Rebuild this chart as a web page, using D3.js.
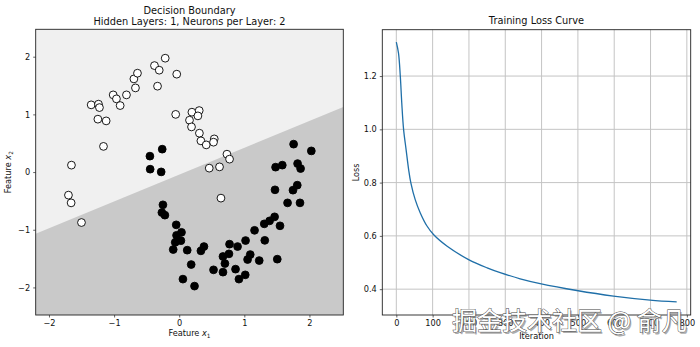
<!DOCTYPE html>
<html>
<head>
<meta charset="utf-8">
<script src="https://cdn.jsdelivr.net/npm/d3@7"></script>
<style>
html,body{margin:0;padding:0;background:#fff;}
svg{display:block;font-family:"DejaVu Sans",sans-serif;}
</style>
</head>
<body>
<svg id="chart" width="700" height="347"></svg>
<script>
// ---------- data ----------
const class0X = [-1.352,-1.240,-1.225,-1.249,-1.122,-1.014,-0.964,-0.907,-0.810,-0.696,-0.641,-0.672,-0.380,-0.307,-0.215,-0.333,-0.038,-0.054,0.195,0.307,0.287,0.158,0.189,0.310,0.333,0.415,0.538,0.527,0.733,0.773,0.461,0.619,0.641,-1.163,-1.655,-1.701,-1.660,-1.501];
const class0Y = [1.165,1.177,1.118,0.917,0.887,1.338,1.269,1.153,1.338,1.615,1.714,1.459,1.846,1.766,1.974,1.489,1.697,1.000,1.038,1.066,0.974,0.899,0.783,0.674,0.541,0.471,0.575,0.518,0.310,0.224,0.068,0.090,-0.452,0.445,0.120,-0.400,-0.534,-0.875];
const class1X = [-0.261,-0.450,-0.446,-0.277,-0.250,-0.266,-0.220,-0.046,0.035,-0.041,0.026,-0.061,-0.092,0.123,0.333,0.380,0.184,0.057,0.235,0.527,0.672,0.702,0.672,0.764,0.773,0.896,1.019,1.157,1.306,1.388,1.465,1.548,1.314,0.865,0.917,1.014,1.091,1.050,1.229,1.506,1.664,1.855,1.471,1.747,1.813,1.818,1.864,1.480,1.583,1.757,2.029];
const class1Y = [0.397,0.276,0.050,0.003,-0.568,-0.702,-0.747,-0.915,-1.045,-1.097,-1.189,-1.218,-1.343,-1.354,-1.366,-1.291,-1.603,-1.856,-1.977,-1.695,-1.735,-1.586,-1.464,-1.418,-1.250,-1.291,-1.187,-1.010,-0.898,-0.846,-0.776,-0.932,-1.184,-1.683,-1.856,-1.782,-1.430,-1.516,-1.534,-1.510,-0.534,-0.534,-0.308,-0.314,-0.227,0.147,0.061,0.085,0.120,0.484,0.367];
const boundaryX = [-2.204, 2.52];
const boundaryY = [-1.07, 1.13];
const featXTicks = [-2,-1,0,1,2];
const featYTicks = [-2,-1,0,1,2];

const lossIter = [0,6,11,15,20,27,34,40,52,66,84,103,140,199,250,286,341,396,497,598,699,772];
const lossVal  = [1.327,1.286,1.199,1.099,1.000,0.923,0.848,0.799,0.736,0.686,0.638,0.604,0.561,0.511,0.480,0.462,0.439,0.421,0.395,0.374,0.359,0.352];
const iterTicks = [0,100,200,300,400,500,600,700,800];
const lossTicks = [0.4,0.6,0.8,1.0,1.2];

const titleLeft1 = "Decision Boundary";
const titleLeft2 = "Hidden Layers: 1, Neurons per Layer: 2";
const titleRight = "Training Loss Curve";
const watermark = "掘金技术社区 @ 俞凡";

// ---------- layout ----------
const svg = d3.select("#chart");
const L = {x0:35.7, x1:343.3, y0:29.3, y1:315};
const R = {x0:382.3, x1:690.7, y0:29.7, y1:315};
const fmtMinus = d => String(d).replace("-", "\u2212");

// ---------- left: decision boundary ----------
const xs = d3.scaleLinear().domain([-2.204, 2.52]).range([L.x0, L.x1]);
const ys = d3.scaleLinear().domain([-2.478, 2.475]).range([L.y1, L.y0]);

const gl = svg.append("g");
gl.append("rect").attr("x",L.x0).attr("y",L.y0).attr("width",L.x1-L.x0).attr("height",L.y1-L.y0).attr("fill","#f0f0f0");
const lowPoly = [
  [xs(boundaryX[0]), ys(boundaryY[0])],
  [xs(boundaryX[1]), ys(boundaryY[1])],
  [L.x1, L.y1],
  [L.x0, L.y1]
];
gl.append("path").attr("d", d3.line()(lowPoly) + "Z").attr("fill","#c9c9c9");

const pts0 = class0X.map((x,i)=>[x,class0Y[i]]);
const pts1 = class1X.map((x,i)=>[x,class1Y[i]]);
gl.selectAll("circle.c0").data(pts0).join("circle").attr("class","c0")
  .attr("cx",d=>xs(d[0])).attr("cy",d=>ys(d[1])).attr("r",3.9)
  .attr("fill","#fff").attr("stroke","#000").attr("stroke-width",0.9);
gl.selectAll("circle.c1").data(pts1).join("circle").attr("class","c1")
  .attr("cx",d=>xs(d[0])).attr("cy",d=>ys(d[1])).attr("r",3.9)
  .attr("fill","#000").attr("stroke","#000").attr("stroke-width",0.9);

gl.append("rect").attr("x",L.x0).attr("y",L.y0).attr("width",L.x1-L.x0).attr("height",L.y1-L.y0)
  .attr("fill","none").attr("stroke","#222").attr("stroke-width",0.9);

const axL_x = gl.append("g").attr("transform",`translate(0,${L.y1})`)
  .call(d3.axisBottom(xs).tickValues(featXTicks).tickSize(2.5).tickPadding(3).tickFormat(fmtMinus));
const axL_y = gl.append("g").attr("transform",`translate(${L.x0},0)`)
  .call(d3.axisLeft(ys).tickValues(featYTicks).tickSize(2.5).tickPadding(3).tickFormat(fmtMinus));
[axL_x, axL_y].forEach(a=>{
  a.select(".domain").remove();
  a.selectAll("text").attr("font-size","8.2px").attr("fill","#111").attr("font-family","DejaVu Sans");
  a.selectAll("line").attr("stroke","#222").attr("stroke-width",0.7);
});

gl.append("text").attr("x",(L.x0+L.x1)/2).attr("y",13.5).attr("text-anchor","middle")
  .attr("font-size","9.8px").attr("fill","#111").text(titleLeft1);
gl.append("text").attr("x",(L.x0+L.x1)/2).attr("y",25).attr("text-anchor","middle")
  .attr("font-size","9.8px").attr("fill","#111").text(titleLeft2);

const xl = gl.append("text").attr("x",(L.x0+L.x1)/2).attr("y",336).attr("text-anchor","middle")
  .attr("font-size","8.2px").attr("fill","#111");
xl.append("tspan").text("Feature ");
xl.append("tspan").attr("font-style","italic").text("x");
xl.append("tspan").attr("font-size","5.8px").attr("dy",1.8).text("1");

const yl = gl.append("text").attr("transform",`translate(11,${(L.y0+L.y1)/2}) rotate(-90)`)
  .attr("text-anchor","middle").attr("font-size","8.2px").attr("fill","#111");
yl.append("tspan").text("Feature ");
yl.append("tspan").attr("font-style","italic").text("x");
yl.append("tspan").attr("font-size","5.8px").attr("dy",1.8).text("2");

// ---------- right: loss curve ----------
const xr = d3.scaleLinear().domain([-38.6, 810.6]).range([R.x0, R.x1]);
const yr = d3.scaleLinear().domain([0.303, 1.374]).range([R.y1, R.y0]);
const gr = svg.append("g");

gr.selectAll("line.gx").data(iterTicks).join("line").attr("class","gx")
  .attr("x1",d=>xr(d)).attr("x2",d=>xr(d)).attr("y1",R.y0).attr("y2",R.y1)
  .attr("stroke","#c4c4c4").attr("stroke-width",1);
gr.selectAll("line.gy").data(lossTicks).join("line").attr("class","gy")
  .attr("y1",d=>yr(d)).attr("y2",d=>yr(d)).attr("x1",R.x0).attr("x2",R.x1)
  .attr("stroke","#c4c4c4").attr("stroke-width",1);

const lossPts = lossIter.map((x,i)=>[x,lossVal[i]]);
gr.append("path").attr("d", d3.line().x(d=>xr(d[0])).y(d=>yr(d[1])).curve(d3.curveCatmullRom.alpha(0.5))(lossPts))
  .attr("fill","none").attr("stroke","#1f6fa8").attr("stroke-width",1.3);

gr.append("rect").attr("x",R.x0).attr("y",R.y0).attr("width",R.x1-R.x0).attr("height",R.y1-R.y0)
  .attr("fill","none").attr("stroke","#222").attr("stroke-width",0.9);

const axR_x = gr.append("g").attr("transform",`translate(0,${R.y1})`)
  .call(d3.axisBottom(xr).tickValues(iterTicks).tickSize(2.5).tickPadding(3).tickFormat(d3.format("d")));
const axR_y = gr.append("g").attr("transform",`translate(${R.x0},0)`)
  .call(d3.axisLeft(yr).tickValues(lossTicks).tickSize(2.5).tickPadding(3).tickFormat(d3.format(".1f")));
[axR_x, axR_y].forEach(a=>{
  a.select(".domain").remove();
  a.selectAll("text").attr("font-size","8.2px").attr("fill","#111").attr("font-family","DejaVu Sans");
  a.selectAll("line").attr("stroke","#222").attr("stroke-width",0.7);
});

gr.append("text").attr("x",(R.x0+R.x1)/2).attr("y",24).attr("text-anchor","middle")
  .attr("font-size","9.8px").attr("fill","#111").text(titleRight);
gr.append("text").attr("x",(R.x0+R.x1)/2).attr("y",339).attr("text-anchor","middle")
  .attr("font-size","8.2px").attr("fill","#111").text("Iteration");
gr.append("text").attr("transform",`translate(358.5,${(R.y0+R.y1)/2}) rotate(-90)`)
  .attr("text-anchor","middle").attr("font-size","8.2px").attr("fill","#111").text("Loss");

// ---------- watermark ----------
const wm = svg.append("g").attr("font-family","'Noto Sans CJK SC',sans-serif").attr("font-size","25px");
wm.append("text").attr("x",453.5).attr("y",331.5).attr("fill","#777").attr("opacity",0.6).text(watermark);
wm.append("text").attr("x",452).attr("y",330).attr("fill","#fff")
  .attr("stroke","#444").attr("stroke-width",0.9).attr("paint-order","stroke").text(watermark);
</script>
</body>
</html>
